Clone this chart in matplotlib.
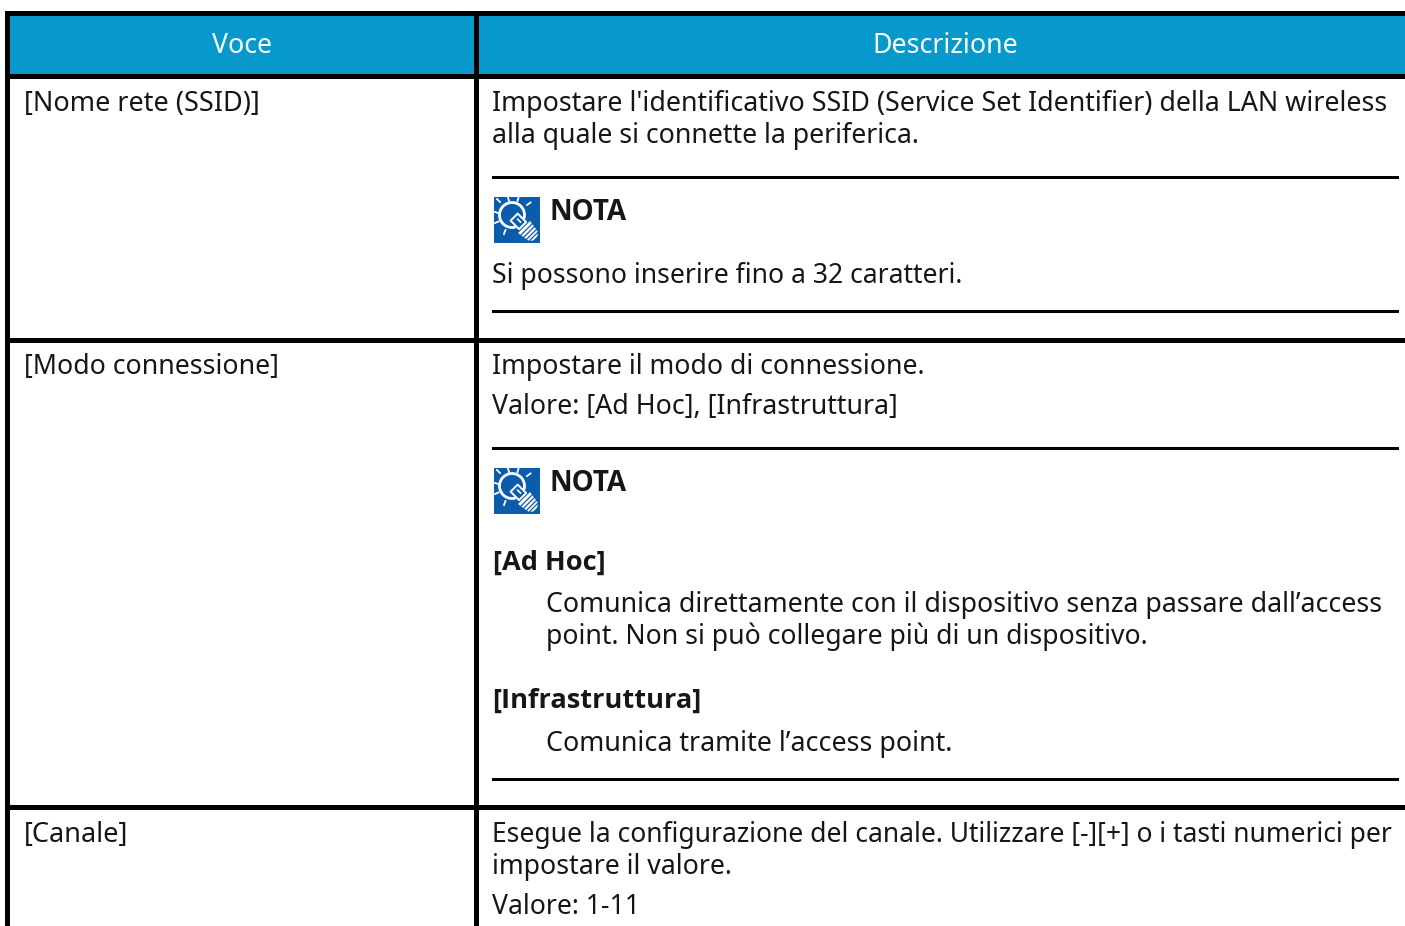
import numpy as np
import matplotlib.pyplot as plt
from matplotlib.patches import Rectangle, Circle, Polygon

plt.rcParams['font.family'] = ['Noto Sans', 'DejaVu Sans']

W, H = 1405, 926
BLUE = "#0899cc"
ICON = "#0b5cab"
BLACK = "#000000"
TXT = "#161616"

headers = ["Voce", "Descrizione"]
items = ["[Nome rete (SSID)]", "[Modo connessione]", "[Canale]"]
body_lines = [
    "Impostare l'identificativo SSID (Service Set Identifier) della LAN wireless",
    "alla quale si connette la periferica.",
    "Si possono inserire fino a 32 caratteri.",
    "Impostare il modo di connessione.",
    "Valore: [Ad Hoc], [Infrastruttura]",
    "Comunica direttamente con il dispositivo senza passare dall’access",
    "point. Non si può collegare più di un dispositivo.",
    "Comunica tramite l’access point.",
    "Esegue la configurazione del canale. Utilizzare [-][+] o i tasti numerici per",
    "impostare il valore.",
    "Valore: 1-11",
]
bold_lines = ["NOTA", "NOTA", "[Ad Hoc]", "[Infrastruttura]"]


def draw_icon(ax, x, y):
    # bulb icon, 45px square, u runs along the bulb axis towards the lower right
    def pts(coords):
        cx, cy = x + 18, y + 18
        s = np.sqrt(0.5)
        return [(cx + (u - v) * s, cy + (u + v) * s) for u, v in coords]

    ax.add_patch(Rectangle((x, y), 45.5, 45.5, fc=ICON, ec="none", zorder=2))
    ax.add_patch(Circle((x + 18, y + 18), 12.5, fc=ICON, ec="white", lw=2.0, zorder=3))
    ax.add_patch(Polygon(pts([(11, -6), (18, -8), (18, 8), (11, 6)]), fc=ICON, ec="none", zorder=3))
    ax.add_patch(Polygon(pts([(17, -8.5), (30, -6.5), (33, -3), (33, 3), (30, 6.5), (17, 8.5)]),
                         fc="white", ec="none", zorder=4))
    for u in [20.5, 24, 27.5, 30.5]:
        ax.plot(*zip(*pts([(u, -8), (u, 8)])), color=ICON, lw=0.9, zorder=5)
    ax.add_patch(Polygon(pts([(3, -5), (15, -5), (15, 5), (3, 5)]),
                         fc=ICON, ec="white", lw=1.4, joinstyle="round", zorder=5))
    ax.plot(*zip(*pts([(7, -1), (11, -1)])), color="white", lw=1.2, zorder=6)
    rays = [(3, 2, 6, 5), (14, 0.5, 15, 4), (24.5, 0.5, 23.5, 4), (36.5, 5.5, 33, 8),
            (1, 15, 4, 16), (1, 26, 4.5, 24.5), (10, 37, 11.5, 33)]
    for x0, y0, x1, y1 in rays:
        ax.plot([x + x0, x + x1], [y + y0, y + y1], color="white", lw=1.3, zorder=3)


fig = plt.figure(figsize=(W / 100, H / 100), dpi=100)
ax = fig.add_axes([0, 0, 1, 1])
ax.set_xlim(0, W)
ax.set_ylim(H, 0)
ax.axis("off")

ax.add_patch(Rectangle((10, 16), W - 10, 58, fc=BLUE, ec="none"))

# table frame
ax.add_patch(Rectangle((5, 11), W - 5, 5, fc=BLACK, ec="none"))
ax.add_patch(Rectangle((5, 74), W - 5, 5, fc=BLACK, ec="none"))
ax.add_patch(Rectangle((5, 11), 5, H - 11, fc=BLACK, ec="none"))
ax.add_patch(Rectangle((474, 11), 5, H - 11, fc=BLACK, ec="none"))
for y in [340.5, 807.5]:
    ax.add_patch(Rectangle((5, y - 2.5), W - 5, 5, fc=BLACK, ec="none"))
for y in [177, 311, 448, 779]:
    ax.add_patch(Rectangle((492, y - 1.5), 907, 3, fc=BLACK, ec="none"))

for s, x, fs in zip(headers, [242, 945], [19.2, 19.3]):
    ax.text(x, 53, s, color="white", fontsize=fs, ha="center", va="baseline")

for s, y, fs in zip(items, [111, 374, 842], [19.45, 19.2, 19.58]):
    ax.text(24, y, s, color=TXT, fontsize=fs, va="baseline")

body_x = [492, 492, 492, 492, 492, 546, 546, 546, 492, 492, 492]
body_y = [111, 143, 283, 374, 414, 612, 644, 751, 842, 874, 914]
# the browser spaced each line a little differently, so sizes are set per line
body_fs = [19.31, 19.2, 19.14, 19.2, 19.25, 19.27, 19.18, 19.34, 19.03, 19.2, 19.14]
for s, x, y, fs in zip(body_lines, body_x, body_y, body_fs):
    ax.text(x, y, s, color=TXT, fontsize=fs, va="baseline")

# Noto Sans has no bold here, Open Sans Bold is the closest
bold_fs = [20.1, 20.1, 19.5, 19.6]
for s, x, y, fs in zip(bold_lines, [549, 549, 493, 492.5], [220, 491, 570, 708], bold_fs):
    ax.text(x, y, s, color=TXT, family="Open Sans", fontsize=fs, fontweight="bold", va="baseline")

for y in [197, 468]:
    draw_icon(ax, 494, y)

fig.savefig("out.png", dpi=100)
